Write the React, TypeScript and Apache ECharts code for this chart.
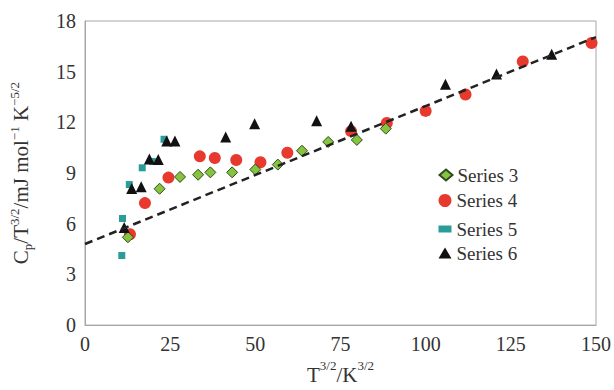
import React, { useEffect, useRef } from "react";
import * as echarts from "echarts";

const s3X = [12.6, 21.9, 27.9, 33.2, 36.8, 43.2, 50.0, 56.6, 63.7, 71.4, 79.8, 88.3];
const s3Y = [5.2, 8.07, 8.77, 8.9, 9.04, 9.04, 9.21, 9.5, 10.32, 10.84, 10.96, 11.63];

const s4X = [13.2, 17.6, 24.5, 33.7, 38.1, 44.4, 51.5, 59.4, 78.1, 88.6, 100.0, 111.7, 128.5, 148.7];
const s4Y = [5.38, 7.22, 8.73, 9.99, 9.89, 9.77, 9.64, 10.2, 11.48, 11.96, 12.68, 13.65, 15.6, 16.7];

const s5X = [10.8, 11.0, 13.0, 16.8, 19.8, 23.2];
const s5Y = [4.12, 6.31, 8.32, 9.31, 9.68, 11.0];

const s6X = [11.5, 13.7, 16.5, 18.9, 21.5, 24.0, 26.4, 41.3, 49.8, 68.0, 78.1, 105.8, 120.8, 137.0];
const s6Y = [5.77, 8.09, 8.19, 9.83, 9.8, 10.9, 10.9, 11.13, 11.92, 12.1, 11.77, 14.25, 14.87, 16.03];

const fitX = [0, 150];
const fitY = [4.8, 17.05];

const seriesNames = ["Series 3", "Series 4", "Series 5", "Series 6"];

const FONT = "'Liberation Serif', 'DejaVu Serif', serif";
const zip = (xs: number[], ys: number[]) => xs.map((x, i) => [x, ys[i]]);

export default function App() {
  const ref = useRef<HTMLDivElement>(null);
  useEffect(() => {
    if (!ref.current) return;
    const chart = echarts.init(ref.current, null, { renderer: "svg" });
    const axisColor = "#a6a6a6";
    const legendBase = {
      orient: "vertical",
      padding: 0,
      itemGap: 0,
      left: 438.5,
      itemWidth: 13,
      textStyle: { fontFamily: FONT, fontSize: 19, color: "#333" },
    };
    chart.setOption({
      animation: false,
      backgroundColor: "#fff",
      textStyle: { fontFamily: FONT },
      grid: {
        left: 83,
        top: 21,
        right: 18,
        bottom: 59,
        show: true,
        borderColor: axisColor,
        borderWidth: 1,
        containLabel: false,
      },
      legend: [
        { ...legendBase, data: [seriesNames[0]], top: 165.5, itemHeight: 11 },
        { ...legendBase, data: [seriesNames[1]], top: 191, itemHeight: 13 },
        { ...legendBase, data: [seriesNames[2]], top: 219.5, itemHeight: 7 },
        { ...legendBase, data: [seriesNames[3]], top: 243.5, itemHeight: 11 },
      ],
      xAxis: {
        type: "value",
        min: 0,
        max: 150,
        interval: 25,
        splitLine: { show: false },
        axisTick: { show: false },
        axisLine: { show: true, lineStyle: { color: axisColor, width: 1 } },
        axisLabel: { fontFamily: FONT, fontSize: 20, color: "#333", margin: 9 },
        name: "{m|T}{sup|3/2}{m|/K}{sup|3/2}",
        nameLocation: "middle",
        nameGap: 30,
        nameTextStyle: {
          fontFamily: FONT,
          rich: {
            m: { fontFamily: FONT, fontSize: 21, color: "#333", lineHeight: 26, verticalAlign: "bottom" },
            sup: { fontFamily: FONT, fontSize: 13, color: "#333", lineHeight: 26, verticalAlign: "top" },
          },
        },
      },
      yAxis: {
        type: "value",
        min: 0,
        max: 18,
        interval: 3,
        splitLine: { show: false },
        axisTick: { show: false },
        axisLine: { show: true, lineStyle: { color: axisColor, width: 1 } },
        axisLabel: { fontFamily: FONT, fontSize: 20, color: "#333", margin: 9 },
        name: "{m|C}{sub|p}{m|/T}{sup|3/2}{m|/mJ mol}{sup|−1}{m| K}{sup|−5/2}",
        nameLocation: "middle",
        nameRotate: 90,
        nameGap: 51,
        nameTextStyle: {
          fontFamily: FONT,
          rich: {
            m: { fontFamily: FONT, fontSize: 21, color: "#333", lineHeight: 26 },
            sup: { fontFamily: FONT, fontSize: 13, color: "#333", lineHeight: 26, verticalAlign: "top" },
            sub: { fontFamily: FONT, fontSize: 13, color: "#333", lineHeight: 22, verticalAlign: "bottom" },
          },
        },
      },
      series: [
        {
          name: seriesNames[0],
          type: "scatter",
          symbol: "diamond",
          symbolSize: 11,
          itemStyle: { color: "#86c440", borderColor: "#2f4a1c", borderWidth: 1, opacity: 1 },
          data: zip(s3X, s3Y),
          z: 3,
        },
        {
          name: seriesNames[1],
          type: "scatter",
          symbol: "circle",
          symbolSize: 12,
          itemStyle: { color: "#e8392f", opacity: 1 },
          data: zip(s4X, s4Y),
          z: 2,
        },
        {
          name: seriesNames[2],
          type: "scatter",
          symbol: "rect",
          symbolSize: 7,
          itemStyle: { color: "#2a9d9a", opacity: 1 },
          data: zip(s5X, s5Y),
          z: 2,
        },
        {
          name: seriesNames[3],
          type: "scatter",
          symbol: "triangle",
          symbolSize: 11,
          itemStyle: { color: "#111", opacity: 1 },
          data: zip(s6X, s6Y),
          z: 4,
        },
        {
          name: "fit",
          type: "line",
          data: zip(fitX, fitY),
          symbol: "none",
          silent: true,
          lineStyle: { color: "#222", width: 2.5, type: [8, 5] },
          z: 5,
        },
      ],
    });
    return () => chart.dispose();
  }, []);
  return (
    <div
      ref={ref}
      style={{ position: "absolute", left: 0, top: 0, width: 614, height: 390 }}
    />
  );
}
